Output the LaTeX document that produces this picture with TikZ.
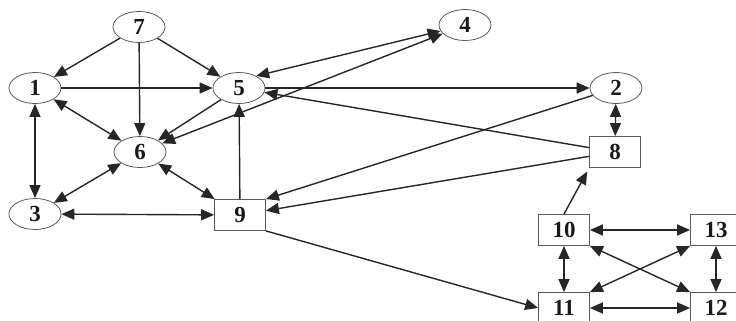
\documentclass[tikz,border=0pt]{standalone}
\usepackage{fontspec}
\setmainfont{Liberation Serif}
\usetikzlibrary{arrows.meta,shapes.geometric}
\begin{document}
\begin{tikzpicture}[x=1pt, y=-1pt, line width=1.4pt, draw=black!85,
				    >={Triangle[length=13pt,width=11pt]},
				    vert/.style={draw=black!65, line width=0.8pt, ellipse,
				    			 minimum width=52pt, minimum height=31pt, inner sep=0pt,
				    			 font=\fontsize{23}{26}\selectfont\bfseries, text=black!90},
				    blk/.style={draw=black!65, line width=0.8pt, rectangle,
				    			minimum width=51pt, minimum height=31pt, inner sep=0pt,
				    			font=\fontsize{23}{26}\selectfont\bfseries, text=black!90}]
	\clip (0,0) rectangle (736,321);
	\node[vert] (n7) at (139, 27) {7};
	\node[vert] (n1) at (35, 88) {1};
	\node[vert] (n5) at (239, 88) {5};
	\node[vert] (n6) at (140, 152) {6};
	\node[vert] (n3) at (35, 214) {3};
	\node[blk]  (n9) at (240, 215) {9};
	\node[vert] (n4) at (465, 25) {4};
	\node[vert] (n2) at (616, 88) {2};
	\node[blk]  (n8) at (615, 152) {8};
	\node[blk]  (n10) at (564, 230) {10};
	\node[blk]  (n13) at (716, 230) {13};
	\node[blk]  (n11) at (564, 308) {11};
	\node[blk]  (n12) at (716, 308) {12};
	\path[->] 	(n7)  edge   (n1);
	\path[->] 	(n7)  edge   (n5);
	\path[->] 	(n7)  edge   (n6);
	\path[->] 	(n1)  edge   (n5);
	\path[<->] 	(n1)  edge   (n6);
	\path[<->] 	(n1)  edge   (n3);
	\path[->] 	(n5)  edge   (n6);
	\path[<->] 	(n4)  edge   (n5.35);
	\path[<->] 	(n6)  edge   (n4);
	\path[->] 	(n5)  edge   (n2);
	\path[->] 	(n8)  edge   (n5);
	\path[->] 	(n2)  edge   (n9.north east);
	\path[->] 	(n8)  edge   (n9);
	\path[->] 	(n9)  edge   (n5);
	\path[<->] 	(n6)  edge   (n9);
	\path[<->] 	(n6)  edge   (n3);
	\path[<->] 	(n3)  edge   (n9);
	\path[->] 	(n9.south east)  edge   (n11.west);
	\path[<->] 	(n2)  edge   (n8);
	\path[->] 	(n10.north)  edge[shorten >=4pt]   (n8.south west);
	\path[<->] 	(n10)  edge   (n13);
	\path[<->] 	(n10)  edge   (n11);
	\path[<->] 	(n10.south east)  edge   (n12.north west);
	\path[<->] 	(n13.south west)  edge   (n11.north east);
	\path[<->] 	(n13)  edge   (n12);
	\path[<->] 	(n11)  edge   (n12);
\end{tikzpicture}
\end{document}
